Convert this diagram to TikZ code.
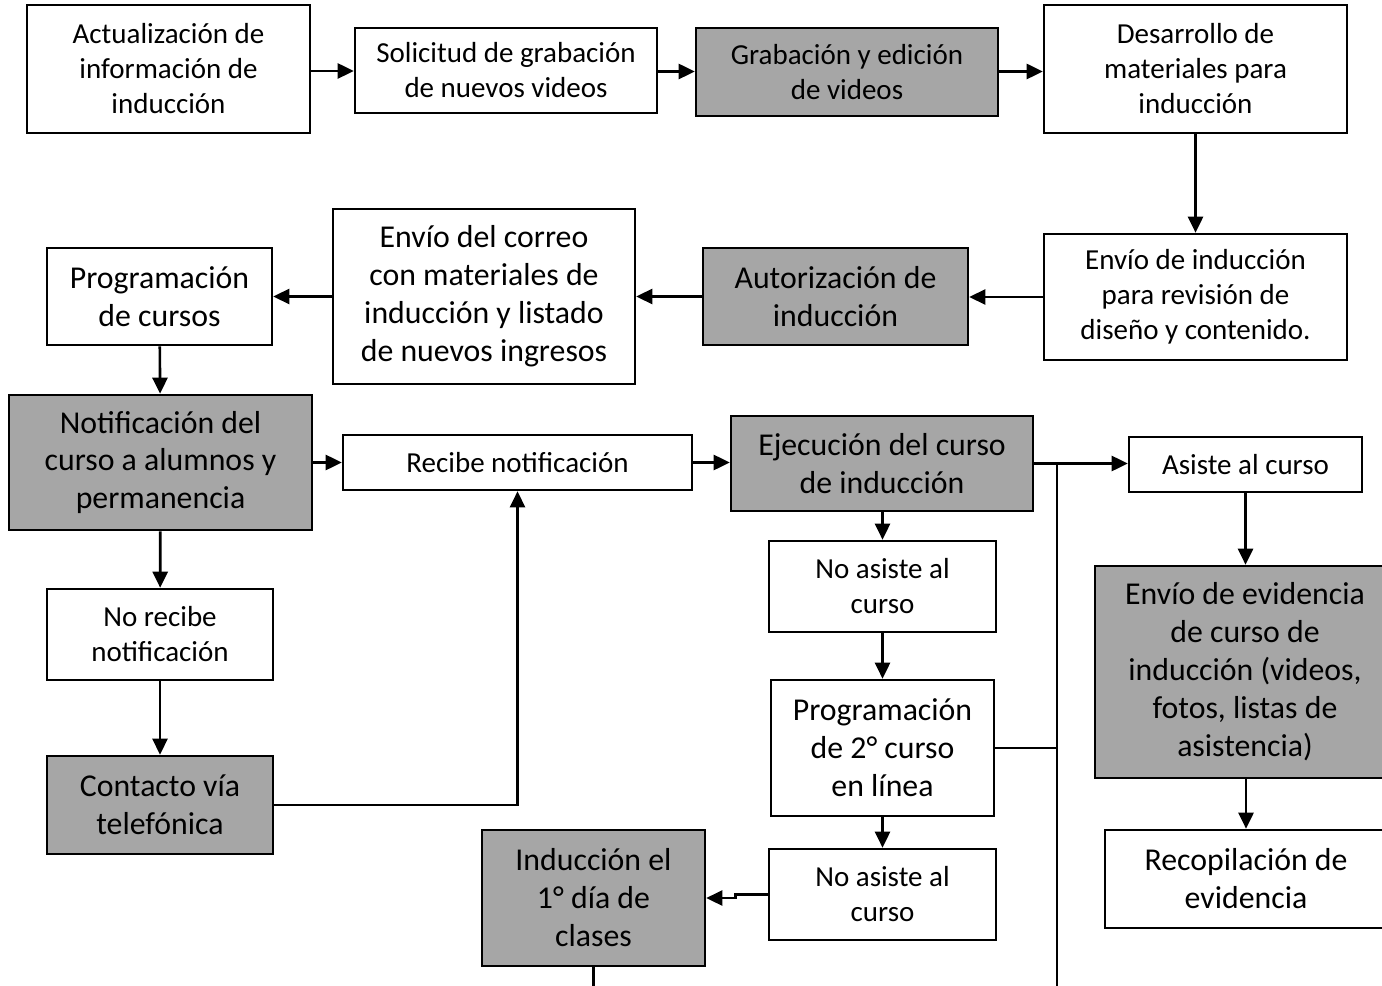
\documentclass[tikz,border=0pt]{standalone}
\usepackage{fontspec}
\setmainfont{Carlito}
\usepackage{tikz}
\usetikzlibrary{arrows.meta}
\definecolor{gris}{HTML}{A6A6A6}

\begin{document}
\begin{tikzpicture}[x=0.02cm,y=-0.02cm,
    caja/.style={draw,line width=1.5pt,align=center,inner sep=2pt,
      font=\fontsize{16.5}{19.9}\selectfont},
    grande/.style={font=\fontsize{18.1}{21.6}\selectfont},
    gris/.style={fill=gris},
    flecha/.style={line width=1.5pt,-{Triangle[length=0.32cm,width=0.30cm]}},
    linea/.style={line width=1.5pt}]
  \useasboundingbox (0,0) rectangle (1382,986);

  % fila superior
  \node[caja,minimum width=5.66cm,minimum height=2.56cm] (act) at (168.5,69) {Actualización de\\información de\\inducción};
  \node[caja,minimum width=6.04cm,minimum height=1.70cm] (sol) at (506,70.5) {Solicitud de grabación\\de nuevos videos};
  \node[caja,gris,minimum width=6.04cm,minimum height=1.76cm] (grab) at (847,72) {Grabación y edición\\de videos};
  \node[caja,minimum width=6.06cm,minimum height=2.56cm] (des) at (1195.5,69) {Desarrollo de\\materiales para\\inducción};

  % segunda fila
  \node[caja,minimum width=6.06cm,minimum height=2.52cm] (envind) at (1195.5,297) {Envío de inducción\\para revisión de\\diseño y contenido.};
  \node[caja,grande,gris,minimum width=5.30cm,minimum height=1.94cm] (aut) at (835.5,296.5) {Autorización de\\inducción};
  \node[caja,grande,minimum width=6.04cm,minimum height=3.50cm] (correo) at (484,296.5) {Envío del correo\\con materiales de\\inducción y listado\\de nuevos ingresos};
  \node[caja,grande,minimum width=4.50cm,minimum height=1.94cm] (prog) at (159.5,296.5) {Programación\\de cursos};

  % tercera fila
  \node[caja,grande,gris,minimum width=6.06cm,minimum height=2.70cm] (notif) at (160.5,462.5) {Notificación del\\curso a alumnos y\\permanencia};
  \node[caja,minimum width=6.98cm,minimum height=1.10cm] (recibe) at (517.5,462.5) {Recibe notificación};
  \node[caja,grande,gris,minimum width=6.04cm,minimum height=1.90cm] (ejec) at (882,463.5) {Ejecución del curso\\de inducción};
  \node[caja,minimum width=4.66cm,minimum height=1.10cm] (asiste) at (1245.5,464.5) {Asiste al curso};

  % columna izquierda
  \node[caja,minimum width=4.52cm,minimum height=1.82cm] (norec) at (160,634.5) {No recibe\\notificación};
  \node[caja,grande,gris,minimum width=4.52cm,minimum height=1.96cm] (contacto) at (160,805) {Contacto vía\\telefónica};

  % columna central
  \node[caja,minimum width=4.54cm,minimum height=1.82cm] (noas1) at (882.5,586.5) {No asiste al\\curso};
  \node[caja,grande,minimum width=4.46cm,minimum height=2.72cm] (prog2) at (882.5,748) {Programación\\de 2° curso\\en línea};
  \node[caja,minimum width=4.54cm,minimum height=1.82cm] (noas2) at (882.5,894.5) {No asiste al\\curso};
  \node[caja,grande,gris,minimum width=4.46cm,minimum height=2.72cm] (ind1) at (593.5,898) {Inducción el\\1° día de\\clases};

  % columna derecha
  \node[caja,grande,gris,minimum width=6.00cm,minimum height=4.24cm] (evid) at (1245,672) {Envío de evidencia\\de curso de\\inducción (videos,\\fotos, listas de\\asistencia)};
  \node[caja,grande,minimum width=5.64cm,minimum height=1.96cm] (recop) at (1246,879) {Recopilación de\\evidencia};

  \coordinate (jn) at (1057,463.5);
  \coordinate (fin) at (1057,986);
  \coordinate (fin2) at (593.5,986);

  % conectores
  \draw[flecha] (act.east |- 0,71) -- (sol.west |- 0,71);
  \draw[flecha] (sol.east |- 0,71.5) -- (grab.west |- 0,71.5);
  \draw[flecha] (grab.east |- 0,71.5) -- (des.west |- 0,71.5);
  \draw[flecha] (des) -- (envind);
  \draw[flecha] (envind.west) -- (aut.east |- envind.west);
  \draw[flecha] (aut.west) -- (correo.east |- aut.west);
  \draw[flecha] (correo.west) -- (prog.east |- correo.west);
  \draw[flecha] (prog) -- (notif);
  \draw[flecha] (notif.east) -- (recibe.west);
  \draw[flecha] (recibe.east) -- (ejec.west |- recibe.east);
  \draw[flecha] (ejec.east) -- (ejec.east -| asiste.west);
  \draw[flecha] (notif) -- (norec);
  \draw[flecha] (norec) -- (contacto);
  \draw[flecha] (contacto.east) -| (recibe.south);
  \draw[flecha] (ejec.south -| noas1) -- (noas1);
  \draw[flecha] (noas1) -- (prog2);
  \draw[flecha] (prog2) -- (noas2);
  \draw[flecha] (noas2.west) -- ++(-32,0) |- (ind1.east);
  \draw[flecha] (asiste.south) -- (asiste.south |- evid.north);
  \draw[flecha] (evid.south -| recop) -- (recop.north);
  \draw[linea] (jn) -- (fin);
  \draw[linea] (prog2.east) -- (prog2.east -| jn);
  \draw[linea] (ind1.south) -- (fin2);
\end{tikzpicture}
\end{document}
